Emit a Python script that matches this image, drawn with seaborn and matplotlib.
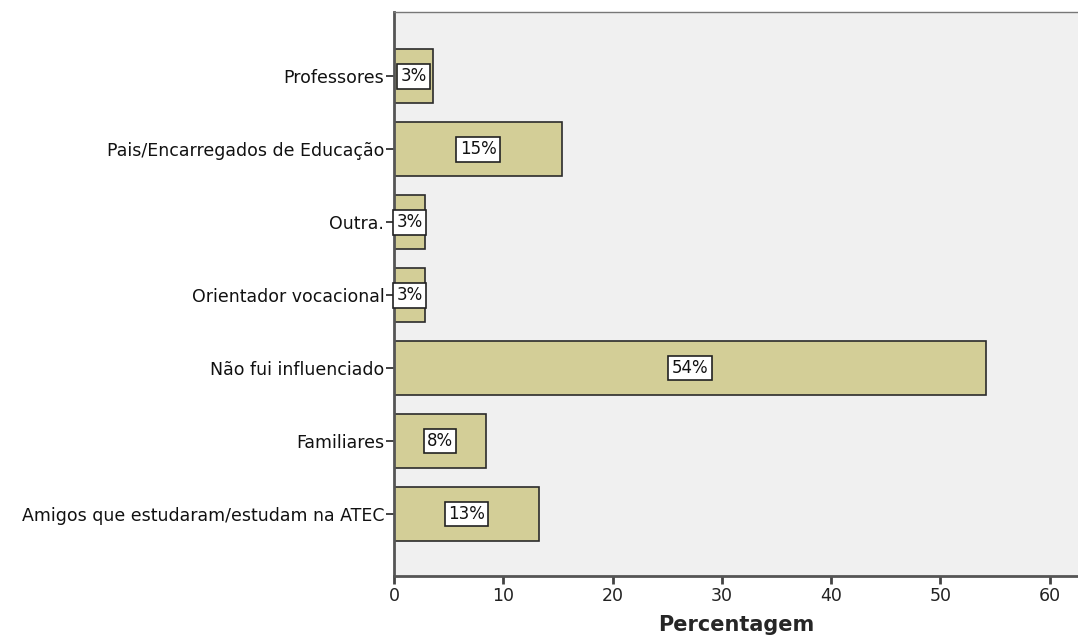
import seaborn as sns
import matplotlib.pyplot as plt
import pandas as pd

categorias = ['Professores', 'Pais/Encarregados de Educação', 'Outra.', 'Orientador vocacional',
              'Não fui influenciado', 'Familiares', 'Amigos que estudaram/estudam na ATEC']
percentagens = [3.55, 15.4, 2.85, 2.85, 54.2, 8.4, 13.3]
rotulos = ['3%', '15%', '3%', '3%', '54%', '8%', '13%']

df = pd.DataFrame({'categoria': categorias, 'percentagem': percentagens})

sns.set_style('white')
plt.rcParams['font.family'] = ['DejaVu Sans']

fig = plt.figure(figsize=(10.78, 6.37), dpi=100)
ax = fig.add_axes([0.3655, 0.0958, 0.6345, 0.885])
ax.set_facecolor('#F0F0F0')

sns.barplot(data=df, x='percentagem', y='categoria', order=categorias, orient='h',
            color='#D3CE97', saturation=1, width=0.74, edgecolor='#2b2b2b', linewidth=1.2, ax=ax)

for i, (v, r) in enumerate(zip(percentagens, rotulos)):
    ax.text(v / 2, i, r, ha='center', va='center', fontsize=12, color='#111111',
            bbox=dict(boxstyle='square,pad=0.2', facecolor='white', edgecolor='#222222', linewidth=1.2))

ax.set_xlim(0, 62.6)
ax.set_ylim(6.85, -0.88)
ax.set_xticks([0, 10, 20, 30, 40, 50, 60])
ax.tick_params(axis='x', length=6, width=2, color='#444444', labelsize=12.5, pad=2, labelcolor='#222222')
ax.tick_params(axis='y', length=6, width=1.2, color='#222222', labelsize=12.5, pad=1, labelcolor='#111111')
ax.tick_params(bottom=True, left=True)

for lado in ['left', 'bottom']:
    ax.spines[lado].set_color('#555555')
    ax.spines[lado].set_linewidth(2)
ax.spines['top'].set_color('#777777')
ax.spines['top'].set_linewidth(1)
ax.spines['right'].set_visible(False)

ax.set_xlabel('Percentagem', fontsize=15, weight='bold', labelpad=7)
ax.set_ylabel('')

fig.savefig('out.png', dpi=100, facecolor='white')
